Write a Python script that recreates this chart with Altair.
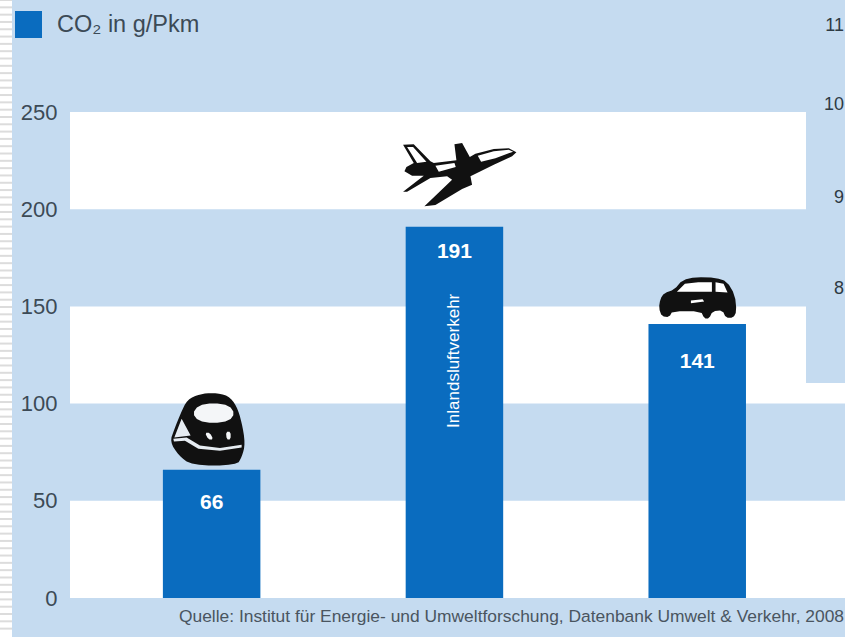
import altair as alt
import pandas as pd

# Chart values
modes = ["Bahn", "Flugzeug", "Pkw"]
co2_values = [66, 191, 141]
value_labels = ["66", "191", "141"]
label_levels = [48.9, 178, 121.4]
series_name = "CO₂ in g/Pkm"
band_lows = [0, 100, 200]
band_highs = [50, 150, 250]
tick_values = [0, 50, 100, 150, 200, 250]
side_labels = ["11", "10", "9", "8"]
side_levels = [294, 253.5, 206, 159]
source_text = "Quelle: Institut für Energie- und Umweltforschung, Datenbank Umwelt & Verkehr, 2008"
icon_levels = [86.9, 217.6, 154.6]

SKY = "#c5dbf0"
BAR = "#0a6cbf"
INK = "#3c4a56"
FONT = "Liberation Sans"


def smooth(points, rounds):
    """Chaikin corner cutting, so the pictograms read as rounded shapes."""
    for _ in range(rounds):
        out = []
        for i, (x0, y0) in enumerate(points):
            x1, y1 = points[(i + 1) % len(points)]
            out.append((0.75 * x0 + 0.25 * x1, 0.75 * y0 + 0.25 * y1))
            out.append((0.25 * x0 + 0.75 * x1, 0.25 * y0 + 0.75 * y1))
        points = out
    return points


def icon_path(points, cx, cy, half, rounds):
    """Closed outline in the unit space that Vega expects of a custom symbol."""
    coords = [f"{(x - cx) / half:.3f},{(y - cy) / half:.3f}" for x, y in smooth(points, rounds)]
    return "M" + "L".join(coords) + "Z"


def compound(polys, cx, cy, half, rounds=1):
    return "".join(icon_path(p, cx, cy, half, rounds) for p in polys)


# Train seen from the front
TRAIN_C = (635, 147, 120)
train_dark = compound([[(575, 256), (535, 225), (510, 185), (522, 150), (542, 100), (562, 58), (600, 42),
                        (640, 38), (685, 46), (710, 78), (725, 125), (736, 190), (726, 230), (710, 256)]],
                      *TRAIN_C, rounds=2)
train_light = compound([
    [(578, 100), (595, 76), (640, 68), (688, 76), (704, 100), (688, 122), (640, 130), (595, 122)],
    [(615, 158), (630, 158), (640, 178), (625, 178)],
    [(678, 155), (692, 155), (692, 178), (680, 178)],
], *TRAIN_C, rounds=1)
train_trim = compound([
    [(523, 172), (545, 116), (572, 166)],
    [(520, 176), (560, 172), (600, 196), (660, 204), (725, 194), (725, 202), (660, 212), (595, 206), (555, 182), (522, 184)],
], *TRAIN_C, rounds=0)

# Airliner climbing to the right
PLANE_C = (222, 136, 180)
plane_dark = compound([
    [(408, 68), (385, 56), (340, 58), (285, 72), (268, 82), (245, 40), (222, 44), (228, 92),
     (160, 100), (150, 95), (100, 44), (68, 45), (100, 100), (78, 112), (72, 125), (95, 138),
     (130, 138), (68, 186), (80, 186), (150, 145), (200, 140), (215, 150), (132, 230), (165, 226),
     (245, 178), (275, 165), (270, 140), (340, 105), (395, 80)],
], *PLANE_C, rounds=0)
plane_light = compound([
    [(80, 52), (98, 52), (138, 96), (110, 100)],
    [(292, 78), (340, 65), (385, 60), (398, 66), (345, 86), (302, 96)],
    [(165, 108), (222, 100), (226, 112), (175, 126)],
], *PLANE_C, rounds=0)

# Hatchback in side view
CAR_C = (169, 893, 120)
car_dark = compound([
    [(54, 925), (58, 898), (70, 880), (100, 870), (125, 840), (165, 832), (225, 834), (258, 845),
     (282, 885), (287, 935), (277, 954), (255, 954), (245, 932), (215, 934), (205, 956), (190, 956),
     (180, 934), (95, 934), (85, 952), (63, 950)],
], *CAR_C, rounds=1)
car_light = compound([
    [(108, 876), (132, 852), (172, 847), (213, 847), (213, 876)],
    [(224, 847), (248, 852), (260, 878), (224, 876)],
    [(150, 902), (185, 898), (190, 905), (150, 910)],
], *CAR_C, rounds=0)

bars_df = pd.DataFrame({"mode": modes, "co2": co2_values, "label": value_labels,
                        "level": label_levels, "series": [series_name] * 3})
bands_df = pd.DataFrame({"low": band_lows, "high": band_highs})
side_df = pd.DataFrame({"text": side_labels, "level": side_levels})
stripes_df = pd.DataFrame({"level": [307.6 - i * 3.76 for i in range(0, 87)]})

x_scale = alt.Scale(domain=modes, paddingInner=0.598, paddingOuter=0.395, align=0.484)
y_scale = alt.Scale(domain=[0, 250], nice=False)
x_enc = alt.X("mode:N", scale=x_scale, axis=None, title=None)

edge_strip = alt.Chart(bars_df.head(1)).mark_rect(color="#ffffff").encode(
    x=alt.value(-70), x2=alt.value(-58), y=alt.value(-112), y2=alt.value(525))

edge_stripes = alt.Chart(stripes_df).mark_rule(color="#dcdcdc", strokeWidth=2).encode(
    y=alt.Y("level:Q", scale=y_scale), x=alt.value(-70), x2=alt.value(-58))

bands = alt.Chart(bands_df).mark_rect(color="#ffffff").encode(
    x=alt.value(0), x2=alt.value(775),
    y=alt.Y("low:Q", scale=y_scale,
            axis=alt.Axis(values=tick_values, title=None, domain=False, ticks=False, grid=False,
                          labelFont=FONT, labelFontSize=22, labelColor=INK, labelPadding=13)),
    y2="high:Q")

panel = alt.Chart(bars_df.head(1)).mark_rect(color=SKY).encode(
    x=alt.value(736), x2=alt.value(775), y=alt.value(-112), y2=alt.value(271))

bars = alt.Chart(bars_df).mark_bar(size=97.5).encode(
    x=x_enc,
    y=alt.Y("co2:Q", scale=y_scale),
    color=alt.Color("series:N", scale=alt.Scale(domain=[series_name], range=[BAR]),
                    legend=alt.Legend(orient="none", legendX=-55, legendY=-101, title=None,
                                      symbolType="square", symbolSize=729, symbolStrokeWidth=0,
                                      symbolOpacity=1, labelFont=FONT, labelFontSize=23.5,
                                      labelColor=INK, labelOffset=15)))

value_text = alt.Chart(bars_df).mark_text(color="#ffffff", font=FONT, fontWeight="bold", fontSize=21).encode(
    x=x_enc, y=alt.Y("level:Q", scale=y_scale), text="label:N")

route_text = alt.Chart(pd.DataFrame({"mode": ["Flugzeug"], "level": [122], "t": ["Inlandsluftverkehr"]})).mark_text(
    color="#ffffff", font=FONT, fontSize=17, angle=270, baseline="middle").encode(
    x=x_enc, y=alt.Y("level:Q", scale=y_scale), text="t:N")


def icon_layer(mode, level, path, half, color):
    side = 2 * half / 3
    frame = pd.DataFrame({"mode": [mode], "level": [level]})
    return alt.Chart(frame).mark_point(shape=path, size=side * side, filled=True, opacity=1,
                                       color=color, strokeWidth=0).encode(
        x=x_enc, y=alt.Y("level:Q", scale=y_scale))


icons = [
    icon_layer(modes[0], icon_levels[0], train_dark, TRAIN_C[2], "#111111"),
    icon_layer(modes[0], icon_levels[0], train_light, TRAIN_C[2], "#f4f6f8"),
    icon_layer(modes[0], icon_levels[0], train_trim, TRAIN_C[2], "#e6ecf2"),
    icon_layer(modes[1], icon_levels[1], plane_dark, PLANE_C[2], "#111111"),
    icon_layer(modes[1], icon_levels[1], plane_light, PLANE_C[2], "#ffffff"),
    icon_layer(modes[2], icon_levels[2], car_dark, CAR_C[2], "#111111"),
    icon_layer(modes[2], icon_levels[2], car_light, CAR_C[2], "#ffffff"),
]

side_text = alt.Chart(side_df).mark_text(color="#2e3a44", font=FONT, fontSize=18, align="right").encode(
    x=alt.value(774), y=alt.Y("level:Q", scale=y_scale), text="text:N")

source = alt.Chart(pd.DataFrame({"t": [source_text]})).mark_text(
    color="#4a5560", font=FONT, fontSize=17.4, align="right").encode(
    x=alt.value(774), y=alt.value(505), text="t:N")

chart = alt.layer(edge_strip, edge_stripes, bands, panel, bars, value_text, route_text, *icons,
                  side_text, source).resolve_scale(color="independent").properties(
    width=775, height=486, background=SKY,
    padding={"left": 70, "top": 112, "right": 0, "bottom": 39},
    autosize=alt.AutoSizeParams(type="none")
).configure_view(stroke=None)

chart.save("out.html", embed_options={"renderer": "svg", "actions": False})
